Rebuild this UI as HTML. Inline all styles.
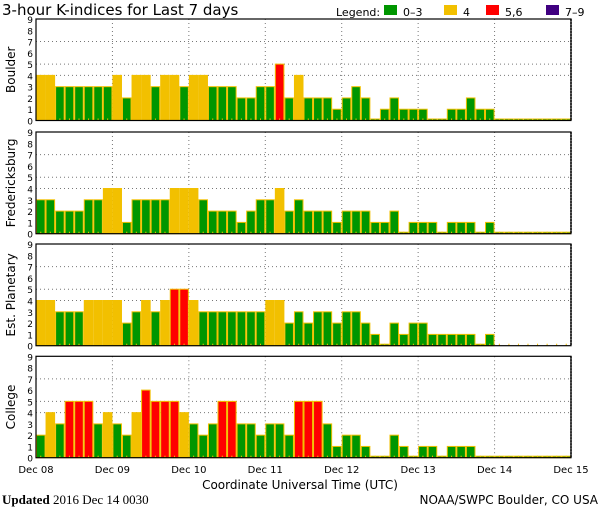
<!DOCTYPE html>
<html><head><meta charset="utf-8"><style>
html,body{margin:0;padding:0;background:#fff;}
svg{display:block;font-family:"DejaVu Sans","Liberation Sans",sans-serif;}
</style></head><body>
<svg id="c" width="600" height="510" viewBox="0 0 600 510" xmlns="http://www.w3.org/2000/svg">
<text x="2" y="15" font-size="15" fill="#000">3-hour K-indices for Last 7 days</text>
<g font-size="11">
<text x="336" y="16">Legend:</text>
<rect x="384" y="5" width="13" height="10" fill="#009600"/>
<text x="403" y="16">0–3</text>
<rect x="444" y="5" width="13" height="10" fill="#f2c000"/>
<text x="463" y="16">4</text>
<rect x="486" y="5" width="13" height="10" fill="#ff0000"/>
<text x="505" y="16">5,6</text>
<rect x="546" y="5" width="13" height="10" fill="#400080"/>
<text x="565" y="16">7–9</text>
</g>
<text x="300" y="489" font-size="12" text-anchor="middle">Coordinate Universal Time (UTC)</text>
<text x="2" y="504" font-size="13" font-family="Liberation Serif, serif"><tspan font-weight="bold">Updated</tspan> 2016 Dec 14 0030</text>
<text x="598" y="504" font-size="12" text-anchor="end">NOAA/SWPC Boulder, CO USA</text>
</svg>
<script>
const stations = ["Boulder", "Fredericksburg", "Est. Planetary", "College"];
const dayLabels = ["Dec 08","Dec 09","Dec 10","Dec 11","Dec 12","Dec 13","Dec 14","Dec 15"];
const yTicks = [0,1,2,3,4,5,6,7,8,9];
const boulder = [4,4,3,3,3,3,3,3, 4,2,4,4,3,4,4,3, 4,4,3,3,3,2,2,3, 3,5,2,4,2,2,2,1, 2,3,2,0,1,2,1,1, 1,0,0,1,1,2,1,1, 0,0,0,0,0,0,0,0];
const fredericksburg = [3,3,2,2,2,3,3,4, 4,1,3,3,3,3,4,4, 4,3,2,2,2,1,2,3, 3,4,2,3,2,2,2,1, 2,2,2,1,1,2,0,1, 1,1,0,1,1,1,0,1, 0,0,0,0,0,0,0,0];
const planetary = [4,4,3,3,3,4,4,4, 4,2,3,4,3,4,5,5, 4,3,3,3,3,3,3,3, 4,4,2,3,2,3,3,2, 3,3,2,1,0,2,1,2, 2,1,1,1,1,1,0,1, null,null,null,null,null,null,null,null];
const college = [2,4,3,5,5,5,3,4, 3,2,4,6,5,5,5,4, 3,2,3,5,5,3,3,2, 3,3,2,5,5,5,3,1, 2,2,1,0,0,2,1,0, 1,1,0,1,1,1,0,0, 0,0,0,0,0,0,0,0];
const series = [boulder, fredericksburg, planetary, college];

const svg = document.getElementById('c');
const NS = "http://www.w3.org/2000/svg";
const X0 = 36, X1 = 571, NB = 56;
const panels = [[19,120.5],[132,233.7],[244,345.7],[356.3,457.7]];
function xScale(i){ return X0 + (X1 - X0) * i / NB; }
function mk(tag, attrs){ const e = document.createElementNS(NS, tag); for (const k in attrs) e.setAttribute(k, attrs[k]); return e; }
function color(v){ return v <= 3 ? "#009600" : v == 4 ? "#f2c000" : v <= 6 ? "#ff0000" : "#400080"; }

panels.forEach((p, pi) => {
  const top = p[0], bot = p[1];
  const yScale = v => bot - (bot - top) * v / 9;
  const g = mk('g', {});
  
  
  svg.appendChild(g);
  // grid
  [4,5,7].forEach(v => {
    const l = mk('line', {x1:X0, x2:X1, y1:yScale(v), y2:yScale(v), stroke:"#777", "stroke-dasharray":"1,3"});
    
    
    g.appendChild(l);
  });
  for (let d = 1; d < 7; d++) {
    const l = mk('line', {x1:xScale(d*8), x2:xScale(d*8), y1:top, y2:bot, stroke:"#777", "stroke-dasharray":"1,3"});
    
    
    g.appendChild(l);
  }
  // bars
  const data = series[pi];
  data.forEach((v, i) => {
    const bx = xScale(i), bw = xScale(i+1) - bx;
    if (v === null) {
      const t = mk('line', {x1:bx+bw/2, x2:bx+bw/2, y1:bot-2, y2:bot, stroke:"#f2c000"});
      
      
      g.appendChild(t);
      return;
    }
    const y = yScale(v);
    const r = mk('rect', {x:bx+0.5, y:Math.min(y, bot-1.5), width:bw-1, height:Math.max(bot - y, 1.5), fill:color(v), stroke:"#f2c000", "stroke-width":1});
    
    
    g.appendChild(r);
    const t = mk('line', {x1:bx+bw/2, x2:bx+bw/2, y1:bot-2, y2:bot, stroke:"#f2c000"});
    
    
    g.appendChild(t);
  });
  // frame
  const f = mk('rect', {x:X0, y:top, width:X1-X0, height:bot-top, fill:"none", stroke:"#000", "stroke-width":1.2});
  
  
  g.appendChild(f);
  const rl = mk('line', {x1:X1, x2:X1, y1:top, y2:bot, stroke:"#000", "stroke-width":1.5, "stroke-dasharray":"2,1"});
  
  
  g.appendChild(rl);
  // y ticks
  yTicks.forEach(v => {
    const t = mk('text', {x:33, y:yScale(v)+4, "font-size":9, "text-anchor":"end"});
    t.textContent = v;
    
    
    g.appendChild(t);
  });
  const cy = (top + bot) / 2;
  const yl = mk('text', {x:0, y:0, "font-size":12, "text-anchor":"middle", transform:`translate(15,${cy}) rotate(-90)`});
  yl.textContent = stations[pi];
  
  
  g.appendChild(yl);
});
dayLabels.forEach((d, i) => {
  const t = mk('text', {x:xScale(i*8), y:473, "font-size":10, "text-anchor":"middle"});
  t.textContent = d;
  
  
  svg.appendChild(t);
});
</script>
</body></html>
